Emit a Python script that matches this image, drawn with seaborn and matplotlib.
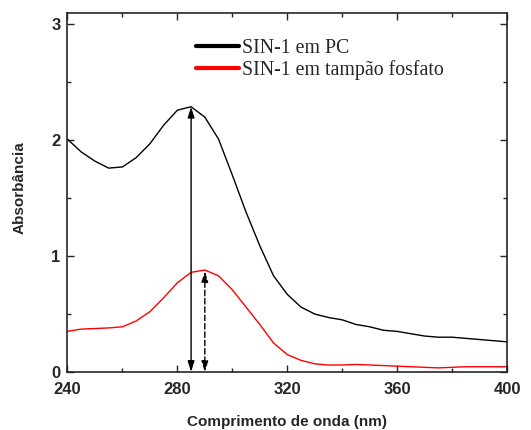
import numpy as np
import pandas as pd
import seaborn as sns
import matplotlib
matplotlib.use("Agg")
import matplotlib.pyplot as plt
from matplotlib.ticker import MultipleLocator
from matplotlib.lines import Line2D

wavelength = list(range(240, 405, 5))
abs_pc = [2.01, 1.90, 1.82, 1.76, 1.77, 1.85, 1.97, 2.13, 2.26, 2.29, 2.20, 2.01,
          1.70, 1.38, 1.09, 0.83, 0.67, 0.56, 0.50, 0.47, 0.45, 0.41, 0.39, 0.36,
          0.35, 0.33, 0.31, 0.30, 0.30, 0.29, 0.28, 0.27, 0.26]
abs_fosfato = [0.35, 0.37, 0.375, 0.38, 0.39, 0.44, 0.52, 0.64, 0.77, 0.86, 0.88, 0.83,
               0.71, 0.56, 0.41, 0.25, 0.15, 0.10, 0.07, 0.06, 0.06, 0.065, 0.06, 0.055,
               0.05, 0.045, 0.04, 0.035, 0.04, 0.045, 0.045, 0.045, 0.045]
series_labels = ["SIN-1 em PC", "SIN-1 em tampão fosfato"]
peak_pc = (285, 2.29)
peak_fosfato = (290, 0.87)

df = pd.DataFrame({
    "wl": wavelength * 2,
    "A": abs_pc + abs_fosfato,
    "serie": [series_labels[0]] * len(wavelength) + [series_labels[1]] * len(wavelength),
})

sns.set_style("ticks")
plt.rcParams['font.family'] = ['Liberation Sans', 'DejaVu Sans']

fig = plt.figure(figsize=(5.31, 4.30), dpi=100)
ax = fig.add_axes([0.127, 0.135, 0.828, 0.835])

sns.lineplot(data=df, x="wl", y="A", hue="serie", palette=["black", "red"],
             linewidth=1.0, ax=ax, legend=False, sort=False)

ax.annotate("", xy=(peak_pc[0], 0), xytext=(peak_pc[0], peak_pc[1]),
            arrowprops=dict(arrowstyle="<|-|>,head_length=0.8,head_width=0.25", color="black", lw=1.0,
                            shrinkA=0, shrinkB=0, mutation_scale=8))
ax.annotate("", xy=(peak_fosfato[0], 0), xytext=(peak_fosfato[0], peak_fosfato[1]),
            arrowprops=dict(arrowstyle="<|-|>,head_length=0.8,head_width=0.25", color="black", lw=1.0,
                            linestyle=(0, (4, 2)), shrinkA=0, shrinkB=0, mutation_scale=8))

ax.set_xlim(240, 400)
ax.set_ylim(0, 3.1)
ax.xaxis.set_major_locator(MultipleLocator(40))
ax.xaxis.set_minor_locator(MultipleLocator(20))
ax.yaxis.set_major_locator(MultipleLocator(1))
ax.yaxis.set_minor_locator(MultipleLocator(0.5))
ax.tick_params(which="both", direction="in", top=True, right=True, width=1.0)
ax.tick_params(which="major", length=5, labelsize=12)
ax.tick_params(axis="x", which="major", pad=7)
ax.tick_params(axis="y", which="major", pad=5)
ax.tick_params(which="minor", length=3)
for lab in ax.get_xticklabels() + ax.get_yticklabels():
    lab.set_fontweight("bold")
for s in ax.spines.values():
    s.set_linewidth(1.2)

ax.set_xlabel("Comprimento de onda (nm)", fontsize=11, fontweight="bold", labelpad=13)
ax.set_ylabel("Absorbância", fontsize=11, fontweight="bold")
ax.yaxis.set_label_coords(-0.092, 0.514)

handles = [Line2D([], [], color="black", lw=3), Line2D([], [], color="red", lw=3)]
leg = ax.legend(handles, series_labels, loc="upper left", bbox_to_anchor=(0.27, 0.955),
                frameon=False, prop={"family": "Liberation Serif", "size": 14.3},
                handlelength=2.15, handletextpad=0.15, labelspacing=0.12, borderpad=0)

fig.savefig("out.png", dpi=100)
